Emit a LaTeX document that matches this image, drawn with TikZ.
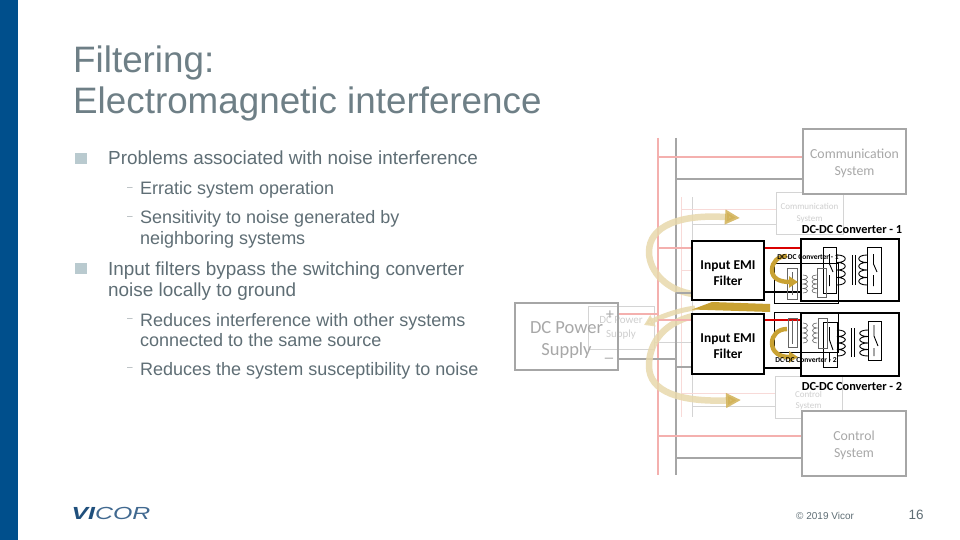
\documentclass[tikz,border=0pt]{standalone}
\usepackage{fontspec}
\setmainfont{Liberation Sans}
\newfontfamily\diag{Carlito}
\usetikzlibrary{arrows.meta}
\definecolor{barblue}{HTML}{004F8C}
\definecolor{titlegray}{HTML}{6E7F86}
\definecolor{bodygray}{HTML}{5F6E75}
\definecolor{bulletgray}{HTML}{B9CACF}
\definecolor{boxgray}{HTML}{A6A6A6}
\definecolor{redsoft}{HTML}{F4B0AE}
\definecolor{redfaint}{HTML}{F8DAD8}
\definecolor{grayfaint}{HTML}{D4D4D4}
\definecolor{txtgray}{HTML}{A8A8A8}
\definecolor{txtfaint}{HTML}{CFCFCF}
\definecolor{tanpale}{HTML}{E8D9AC}
\definecolor{gold}{HTML}{C9A233}
\definecolor{logoblue}{HTML}{1F4F7C}
\tikzset{
  x=1pt,y=-1pt,
  bigbox/.style={draw=boxgray,line width=2pt,fill=white,inner sep=0pt,align=center,text=txtgray,font=\diag\fontsize{13.8}{17}\selectfont},
  fadebox/.style={draw=grayfaint,line width=1pt,inner sep=0pt,align=center,text=txtfaint,font=\diag\fontsize{9}{11.5}\selectfont},
  emibox/.style={draw=black,line width=1.6pt,fill=white,inner sep=0pt,align=center,font=\diag\bfseries\fontsize{13.5}{16}\selectfont,minimum width=72pt,minimum height=59pt},
  convbox/.style={draw=black,line width=1.6pt,inner sep=0pt,minimum width=98pt,minimum height=62pt},
  innerbox/.style={draw=black,line width=1pt,inner sep=0pt,minimum width=64pt,minimum height=40pt},
  swbox/.style={draw=black,line width=.9pt,inner sep=0pt},
  fadesw/.style={draw=black!60,line width=.7pt,inner sep=0pt},
  redbus/.style={draw=redsoft,line width=1.6pt},
  graybus/.style={draw=boxgray,line width=1.6pt},
  redfade/.style={draw=redfaint,line width=1pt},
  grayfade/.style={draw=grayfaint,line width=1pt},
  wire/.style={draw=black,line width=1.2pt},
  hotwire/.style={draw=red!85!black,line width=1.3pt},
  bigarc/.style={draw=tanpale,opacity=.85,line width=6.5pt,-{Triangle[length=15pt,width=14pt,color=gold!70!tanpale]}},
  smallarc/.style={draw=gold,line width=4.4pt,-{Triangle[length=9pt,width=11pt,color=gold]}},
  bullet/.style={fill=bulletgray,inner sep=0pt,minimum size=11.5pt},
  lvlone/.style={anchor=north west,inner sep=0pt,align=left,text=bodygray,font=\fontsize{18.9}{21}\selectfont},
  lvltwo/.style={anchor=north west,inner sep=0pt,align=left,text=bodygray,font=\fontsize{18}{20.4}\selectfont},
  dashmark/.style={inner sep=0pt,text=bodygray!60,font=\fontsize{10}{10}\selectfont},
  coil/.style={draw=black,line width=.9pt},
  fadecoil/.style={draw=black!60,line width=.6pt},
}
% x, ytop, bulge, loop height, style
\newcommand{\coilat}[5]{%
  \draw[#5] (#1,#2) .. controls +(#3,0) and +(#3,0) .. ++(0,#4)
    .. controls +(#3,0) and +(#3,0) .. ++(0,#4)
    .. controls +(#3,0) and +(#3,0) .. ++(0,#4)
    .. controls +(#3,0) and +(#3,0) .. ++(0,#4);}
\newcommand{\lift}[1]{\rule{0pt}{#1pt}}
\begin{document}
\begin{tikzpicture}
\useasboundingbox (0,0) rectangle (960,540);
\fill[white] (0,0) rectangle (960,540);
\fill[barblue] (0,0) rectangle (18,540);

% title
\node[anchor=north west,inner sep=0pt,align=left,text=titlegray,font=\fontsize{36.8}{41}\selectfont] (title) at (73,45.5) {Filtering:\\Electromagnetic interference};

% bullet list
\node[bullet] (b1) at (81,158.5) {};
\node[lvlone] (t1) at (108,151) {Problems associated with noise interference};
\node[dashmark] (d1) at (130,189) {–};
\node[lvltwo] (s1) at (140,181.7) {Erratic system operation};
\node[dashmark] (d2) at (130,218) {–};
\node[lvltwo] (s2) at (140,210.7) {Sensitivity to noise generated by\\neighboring systems};
\node[bullet] (b2) at (81,268.5) {};
\node[lvlone] (t2) at (108,261.5) {Input filters bypass the switching converter\\noise locally to ground};
\node[dashmark] (d3) at (130,320) {–};
\node[lvltwo] (s3) at (140,313) {Reduces interference with other systems\\connected to the same source};
\node[dashmark] (d4) at (130,369) {–};
\node[lvltwo] (s4) at (140,362) {Reduces the system susceptibility to noise};

% faint copy of the diagram
\coordinate (frt) at (681,197); \coordinate (frb) at (681,417);
\coordinate (fgt) at (692,197); \coordinate (fgb) at (692,417);
\draw[redfade] (frt) -- (frb);
\draw[grayfade] (fgt) -- (fgb);
\node[fadebox,minimum width=67pt,minimum height=42pt] (fcomm) at (809.5,213) {Communication\\System};
\node[fadebox,minimum width=67pt,minimum height=42pt] (fctrl) at (808.5,397) {\lift{13}Control\\System};
\node[fadebox,minimum width=66pt,minimum height=43pt,font=\diag\fontsize{11}{14}\selectfont] (fdc) at (621,327.5) {DC Power\\Supply};
\draw[redfade] (frt |- 0,209) -- (fcomm.west |- 0,209);
\draw[grayfade] (fgt |- 0,224) -- (fcomm.west |- 0,224);
\draw[redfade] (frt |- 0,393) -- (fctrl.west |- 0,393);
\draw[grayfade] (fgt |- 0,406) -- (fctrl.west |- 0,406);
\draw[redfade] (fdc.east |- 0,320) -- (fgt |- 0,320);
\draw[grayfade] (fdc.east |- 0,342) -- (fgt |- 0,342);
\draw[redfade] (frt |- 0,270) -- (fgt |- 0,270);

% main buses and boxes
\coordinate (rt) at (658,138); \coordinate (rb) at (658,475);
\coordinate (gt) at (676,138); \coordinate (gb) at (676,475);
\node[bigbox,minimum width=103pt,minimum height=65pt] (comm) at (854.5,161.5) {\lift{14}Communication\\System};
\node[bigbox,minimum width=104pt,minimum height=65pt] (ctrl) at (854,443.5) {\lift{13}Control\\System};
\node[bigbox,fill=none,minimum width=103pt,minimum height=67pt,font=\diag\fontsize{18.5}{22}\selectfont] (dc) at (566.5,336.5) {\lift{18}DC Power\\Supply};
\draw[redbus] (rt) -- (rb);
\draw[graybus] (gt) -- (gb);
\draw[redbus] (rt |- 0,157) -- (comm.west |- 0,157);
\draw[graybus] (gt |- 0,179) -- (comm.west |- 0,179);
\draw[redbus] (rt |- 0,436) -- (ctrl.west |- 0,436);
\draw[graybus] (gt |- 0,458) -- (ctrl.west |- 0,458);
\draw[redbus] (dc.east |- 0,314) -- (rt |- 0,314);
\draw[graybus] (dc.east |- 0,359) -- (gt |- 0,359);
\node[text=txtgray,inner sep=0pt,font=\fontsize{15}{15}\selectfont] (plus) at (610,315) {+};
\node[text=txtgray,inner sep=0pt,font=\fontsize{15}{15}\selectfont] (minus) at (609,360) {–};

% large arcs
\coordinate (a1s) at (693,294); \coordinate (a1e) at (740,218);
\coordinate (a2s) at (693,316); \coordinate (a2e) at (741,400);
\coordinate (a3s) at (695,308); \coordinate (a3e) at (644,325);
\draw[bigarc] (a1s) .. controls (668,291) and (649,272) .. (649,252) .. controls (649,226) and (680,214) .. (a1e);
\draw[bigarc] (a2s) .. controls (667,322) and (649,340) .. (649,366) .. controls (649,392) and (680,402) .. (a2e);
\draw[tanpale,opacity=.85,line width=5pt,-{Triangle[length=10pt,width=12pt,color=tanpale]}] (a3s) .. controls (680,310) and (665,315) .. (a3e);

% input filters and feed wires
\node[emibox] (emi1) at (728,270.5) {\lift{14}Input EMI\\Filter};
\node[emibox,minimum height=60pt] (emi2) at (728,344) {\lift{14}Input EMI\\Filter};
\draw[redbus] (rt |- 0,248) -- (emi1.west |- 0,248);
\draw[redbus] (rt |- 0,320) -- (emi2.west |- 0,320);
\draw[graybus] (gt |- 0,293) -- (emi1.west |- 0,293);
\draw[graybus] (gt |- 0,367) -- (emi2.west |- 0,367);
\fill[gold] (770,304) -- (770,312) -- (692,309.5) -- (712,302) -- cycle;

% converters
\node[convbox] (conv1) at (850,270) {};
\node[convbox,minimum height=63pt] (conv2) at (850,344.5) {};
\node[innerbox] (in1) at (806,283) {};
\node[innerbox] (in2) at (806,332) {};

% converter 1 schematic
\draw[hotwire] (emi1.east |- 0,248) -- (conv1.west |- 0,248);
\draw[wire] (emi1.east |- 0,292) -- (conv1.west |- 0,292);
\node[swbox,minimum width=13pt,minimum height=46pt] (sw1a) at (829.5,270) {};
\node[swbox,minimum width=14pt,minimum height=46pt] (sw1b) at (874,270) {};
\coilat{837}{255}{11}{7.5}{coil}
\coilat{867}{255}{-11}{7.5}{coil}
\draw[coil] (852,255) -- (852,285) (855,255) -- (855,285);
\draw[coil] (829.5,254) -- (829.5,264) -- (833,272) (829.5,275) -- (829.5,286);
\draw[coil] (873.5,254) -- (873.5,264) -- (877,272) (873.5,275) -- (873.5,286);
\node[fadesw,minimum width=10pt,minimum height=31pt] (sw1c) at (792,283.5) {};
\node[fadesw,minimum width=9pt,minimum height=29pt] (sw1d) at (821.5,282.5) {};
\coilat{803}{275}{6}{4.5}{fadecoil}
\coilat{816.5}{275}{-6}{4.5}{fadecoil}
\draw[fadecoil] (792,272) -- (792,295);

% converter 2 schematic
\draw[hotwire] (emi2.east |- 0,320) -- (conv2.west |- 0,320);
\draw[wire] (emi2.east |- 0,368) -- (conv2.west |- 0,368);
\node[swbox,minimum width=14pt,minimum height=45pt] (sw2a) at (830,344.5) {};
\node[swbox,minimum width=13pt,minimum height=39pt] (sw2b) at (874.5,340.5) {};
\coilat{837}{330}{11}{6.5}{coil}
\coilat{868}{330}{-11}{6.5}{coil}
\draw[coil] (851,328) -- (851,357) (854,328) -- (854,357);
\draw[coil] (829.5,327) -- (829.5,340) -- (833,350) (829.5,352) -- (829.5,362);
\draw[coil] (874,325) -- (874,336) -- (878,346) (874,348) -- (874,356);
\node[fadesw,minimum width=9pt,minimum height=29pt] (sw2c) at (792.5,332.5) {};
\node[fadesw,minimum width=9pt,minimum height=30pt] (sw2d) at (822.5,333) {};
\coilat{803}{323}{6}{5}{fadecoil}
\coilat{817}{323}{-6}{5}{fadecoil}
\draw[fadecoil] (792.5,320) -- (792.5,344);

% small arcs
\coordinate (s1s) at (787,256); \coordinate (s1e) at (798,282);
\coordinate (s2s) at (787,329); \coordinate (s2e) at (798,357);
\draw[smallarc] (s1s) .. controls (778,256) and (772,262) .. (772,270) .. controls (772,278) and (779,282) .. (s1e);
\draw[smallarc] (s2s) .. controls (778,329) and (772,335) .. (772,343) .. controls (772,352) and (779,357) .. (s2e);

% converter labels
\node[inner sep=0pt,font=\diag\bfseries\fontsize{12.3}{13}\selectfont] (c1lab) at (852,230) {DC-DC Converter - 1};
\node[inner sep=0pt,font=\diag\bfseries\fontsize{12.3}{13}\selectfont] (c2lab) at (852,387) {DC-DC Converter - 2};
\node[inner sep=0pt,font=\diag\bfseries\fontsize{7.5}{9}\selectfont] (i1lab) at (808,257) {DC-DC Converter - 1};
\node[inner sep=0pt,font=\diag\bfseries\fontsize{7.5}{9}\selectfont] (i2lab) at (806,360) {DC-DC Converter - 2};

% footer
\node[inner sep=0pt,font=\fontsize{17.5}{18}\selectfont\itshape,text=logoblue,xscale=1.42] (logo) at (111,513) {\textbf{VI}\textcolor{logoblue!85}{COR}};
\node[anchor=west,inner sep=0pt,text=bodygray,font=\fontsize{10}{12}\selectfont] (copy) at (796,516) {© 2019 Vicor};
\node[inner sep=0pt,text=bodygray,font=\fontsize{13.5}{15}\selectfont] (page) at (916,515) {16};
\end{tikzpicture}
\end{document}
